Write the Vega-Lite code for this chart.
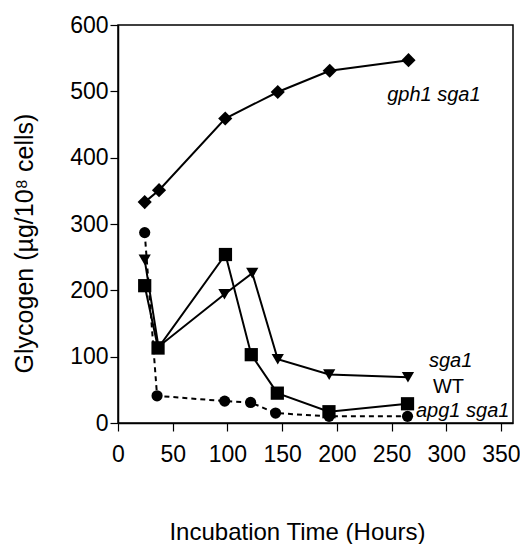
{
  "$schema": "https://vega.github.io/schema/vega-lite/v6.json",
  "width": 395,
  "height": 398,
  "autosize": {"type": "none"},
  "padding": {"left": 118, "top": 25, "right": 7, "bottom": 121},
  "background": "white",
  "config": {
    "font": "Liberation Sans",
    "view": {"stroke": "black", "strokeWidth": 1.5},
    "axis": {
      "grid": false,
      "domainColor": "black",
      "domainWidth": 1.5,
      "tickColor": "black",
      "tickWidth": 1.2,
      "tickSize": 8,
      "labelColor": "black",
      "labelFontSize": 23,
      "labelFont": "Liberation Sans",
      "titleColor": "black",
      "titleFont": "Liberation Sans",
      "titleFontWeight": "normal",
      "labelOverlap": false,
      "labelFlush": false
    }
  },
  "datasets": {
    "series": [
      {"series": "gph1 sga1", "hours": 24.4, "glycogen": 333},
      {"series": "gph1 sga1", "hours": 37.5, "glycogen": 351},
      {"series": "gph1 sga1", "hours": 98, "glycogen": 459},
      {"series": "gph1 sga1", "hours": 146, "glycogen": 499},
      {"series": "gph1 sga1", "hours": 193.5, "glycogen": 531},
      {"series": "gph1 sga1", "hours": 265.5, "glycogen": 547},
      {"series": "WT", "hours": 24.4, "glycogen": 207},
      {"series": "WT", "hours": 36.6, "glycogen": 113},
      {"series": "WT", "hours": 98.2, "glycogen": 254},
      {"series": "WT", "hours": 121.8, "glycogen": 103},
      {"series": "WT", "hours": 145.6, "glycogen": 45},
      {"series": "WT", "hours": 192.8, "glycogen": 17},
      {"series": "WT", "hours": 264.6, "glycogen": 29},
      {"series": "sga1", "hours": 24.4, "glycogen": 246},
      {"series": "sga1", "hours": 37, "glycogen": 115},
      {"series": "sga1", "hours": 97.3, "glycogen": 194},
      {"series": "sga1", "hours": 122.7, "glycogen": 226},
      {"series": "sga1", "hours": 146, "glycogen": 96},
      {"series": "sga1", "hours": 193, "glycogen": 73},
      {"series": "sga1", "hours": 265, "glycogen": 69},
      {"series": "apg1 sga1", "hours": 24.4, "glycogen": 287},
      {"series": "apg1 sga1", "hours": 35.7, "glycogen": 41},
      {"series": "apg1 sga1", "hours": 97.5, "glycogen": 33},
      {"series": "apg1 sga1", "hours": 121.2, "glycogen": 31},
      {"series": "apg1 sga1", "hours": 144, "glycogen": 15},
      {"series": "apg1 sga1", "hours": 192.9, "glycogen": 10},
      {"series": "apg1 sga1", "hours": 264.6, "glycogen": 10}
    ],
    "labels": [
      {"text": "gph1 sga1", "hours": 288.7, "glycogen": 495, "italic": true},
      {"text": "sga1", "hours": 304, "glycogen": 94, "italic": true},
      {"text": "WT", "hours": 302, "glycogen": 54, "italic": false},
      {"text": "apg1 sga1", "hours": 315, "glycogen": 18, "italic": true}
    ]
  },
  "encoding": {
    "x": {
      "field": "hours",
      "type": "quantitative",
      "scale": {"domain": [0, 361], "nice": false},
      "axis": {
        "title": "Incubation Time (Hours)",
        "values": [0, 50, 100, 150, 200, 250, 300, 350],
        "labelPadding": 12,
        "titleFontSize": 24,
        "titleX": 179,
        "titleY": 109,
        "titleBaseline": "middle"
      }
    },
    "y": {
      "field": "glycogen",
      "type": "quantitative",
      "scale": {"domain": [0, 600], "nice": false},
      "axis": {
        "title": "Glycogen (µg/10⁸ cells)",
        "values": [0, 100, 200, 300, 400, 500, 600],
        "labelPadding": 2,
        "titleFontSize": 25,
        "titleX": -94,
        "titleY": 218,
        "titleBaseline": "middle"
      }
    }
  },
  "layer": [
    {
      "data": {"name": "series"},
      "transform": [{"filter": "datum.series !== 'apg1 sga1'"}],
      "mark": {"type": "line", "color": "black", "strokeWidth": 2},
      "encoding": {"detail": {"field": "series"}}
    },
    {
      "data": {"name": "series"},
      "transform": [{"filter": "datum.series === 'apg1 sga1'"}],
      "mark": {"type": "line", "color": "black", "strokeWidth": 2, "strokeDash": [5, 4]},
      "encoding": {}
    },
    {
      "data": {"name": "series"},
      "mark": {"type": "point", "filled": true, "color": "black", "opacity": 1},
      "encoding": {
        "shape": {
          "field": "series",
          "type": "nominal",
          "scale": {
            "domain": ["gph1 sga1", "WT", "sga1", "apg1 sga1"],
            "range": ["diamond", "square", "triangle-down", "circle"]
          },
          "legend": null
        },
        "size": {
          "field": "series",
          "type": "nominal",
          "scale": {
            "domain": ["gph1 sga1", "WT", "sga1", "apg1 sga1"],
            "range": [200, 125, 190, 110]
          },
          "legend": null
        }
      }
    },
    {
      "data": {"name": "labels"},
      "transform": [{"filter": "datum.italic"}],
      "mark": {"type": "text", "fontSize": 20, "fontStyle": "italic", "color": "black", "align": "center", "baseline": "middle"},
      "encoding": {"text": {"field": "text"}}
    },
    {
      "data": {"name": "labels"},
      "transform": [{"filter": "!datum.italic"}],
      "mark": {"type": "text", "fontSize": 20, "color": "black", "align": "center", "baseline": "middle"},
      "encoding": {"text": {"field": "text"}}
    }
  ]
}
